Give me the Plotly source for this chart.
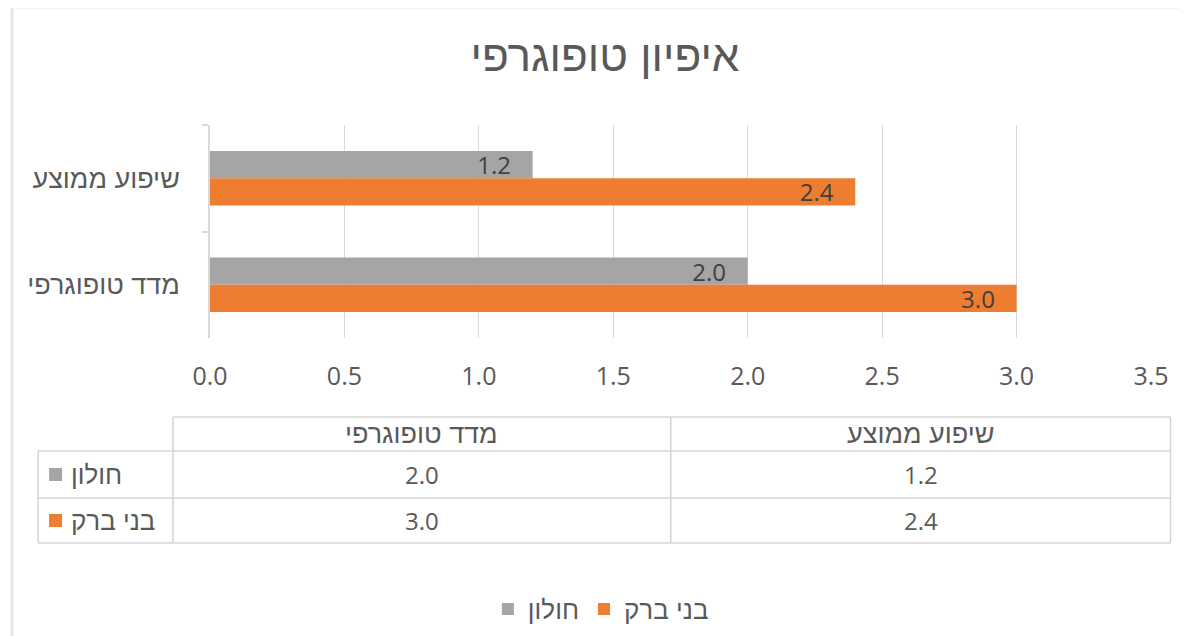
import plotly.graph_objects as go

# ---- data ----
title_text = "איפיון טופוגרפי"
categories = ["שיפוע ממוצע", "מדד טופוגרפי"]
series_names = ["חולון", "בני ברק"]
holon = [1.2, 2.0]
bnei_brak = [2.4, 3.0]
series_values = [holon, bnei_brak]
series_colors = ["#A5A5A5", "#ED7D31"]
x_ticks = [0.0, 0.5, 1.0, 1.5, 2.0, 2.5, 3.0, 3.5]

# page layout (the html body adds an 8px margin)
OFF = 8
W, H = 1187 - OFF, 636 - OFF
PL, PR, PT, PB = 210, 1151.5, 125, 338     # plot area in page pixels
L, T = PL - OFF, PT - OFF
R = W - (PR - OFF)
B = H - (PB - OFF)
PW, PH = PR - PL, PB - PT

def px(x):
    return (x - PL) / PW

def py(y):
    return 1 - (y - PT) / PH

HEB = "Liberation Sans, Arial, DejaVu Sans, sans-serif"
NUM = "Open Sans, Segoe UI, Liberation Sans, sans-serif"
TXT = "#595959"
GRID = "#D9D9D9"

fig = go.Figure()
for name, vals, col in zip(series_names, series_values, series_colors):
    fig.add_trace(go.Bar(
        y=categories, x=vals, name=name, orientation="h",
        marker=dict(color=col, line=dict(width=0)),
        texttemplate="%{x:.1f}" + "\u00a0" * 3, textposition="inside", insidetextanchor="end",
        textfont=dict(size=24, color="#404040", family=NUM),
        constraintext="none", hoverinfo="skip",
    ))

shapes = []
annotations = []

# outer chart border
shapes.append(dict(type="rect", xref="paper", yref="paper",
                   x0=px(12), x1=px(1200), y0=py(7), y1=py(660),
                   line=dict(color="#E6E6E6", width=3), layer="below"))

# ---- data table built from the arrays ----
col_x = [38, 173, 671, 1171]          # label col, then categories (RTL order)
row_y = [417, 451, 498, 543]          # header, series rows
line_c = "#D4D4D4"
lw = 1.5
shapes.append(dict(type="line", xref="paper", yref="paper",
                   x0=px(col_x[1]), x1=px(col_x[-1]), y0=py(row_y[0]), y1=py(row_y[0]),
                   line=dict(color=line_c, width=lw)))
for yy in row_y[1:]:
    shapes.append(dict(type="line", xref="paper", yref="paper",
                       x0=px(col_x[0]), x1=px(col_x[-1]), y0=py(yy), y1=py(yy),
                       line=dict(color=line_c, width=lw)))
shapes.append(dict(type="line", xref="paper", yref="paper",
                   x0=px(col_x[0]), x1=px(col_x[0]), y0=py(row_y[1]), y1=py(row_y[-1]),
                   line=dict(color=line_c, width=lw)))
for xx in col_x[1:]:
    shapes.append(dict(type="line", xref="paper", yref="paper",
                       x0=px(xx), x1=px(xx), y0=py(row_y[0]), y1=py(row_y[-1]),
                       line=dict(color=line_c, width=lw)))

table_cats = list(reversed(categories))
for j, cat in enumerate(table_cats):
    cx = (col_x[j + 1] + col_x[j + 2]) / 2
    annotations.append(dict(xref="paper", yref="paper", x=px(cx),
                            y=py((row_y[0] + row_y[1]) / 2), text=cat, showarrow=False,
                            xanchor="center", yanchor="middle",
                            font=dict(size=27, color=TXT, family=HEB)))
    ci = categories.index(cat)
    for i, vals in enumerate(series_values):
        annotations.append(dict(xref="paper", yref="paper", x=px(cx),
                                y=py((row_y[i + 1] + row_y[i + 2]) / 2),
                                text=f"{vals[ci]:.1f}", showarrow=False,
                                xanchor="center", yanchor="middle",
                                font=dict(size=24, color=TXT, family=NUM)))
for i, (name, col) in enumerate(zip(series_names, series_colors)):
    cy = (row_y[i + 1] + row_y[i + 2]) / 2
    shapes.append(dict(type="rect", xref="paper", yref="paper",
                       x0=px(49), x1=px(62), y0=py(cy - 6.5), y1=py(cy + 6.5),
                       fillcolor=col, line=dict(width=0)))
    annotations.append(dict(xref="paper", yref="paper", x=px(69), y=py(cy),
                            text=name, showarrow=False, xanchor="left", yanchor="middle",
                            font=dict(size=26, color=TXT, family=HEB)))

fig.update_layout(
    width=W, height=H,
    margin=dict(l=L, r=R, t=T, b=B, pad=0, autoexpand=False),
    paper_bgcolor="white", plot_bgcolor="white",
    title=dict(text=title_text, x=(605 - OFF) / W, xanchor="center",
               y=1 - (56 - OFF) / H, yanchor="middle",
               font=dict(size=44, color=TXT, family=HEB)),
    barmode="group", bargap=0.488, bargroupgap=0,
    xaxis=dict(range=[0, 3.5], tickvals=x_ticks, ticktext=[f"{v:.1f}" for v in x_ticks],
               showgrid=True, gridcolor=GRID, gridwidth=1.3, zeroline=False,
               showline=False, ticks="", ticklabelstandoff=21, automargin=False,
               tickfont=dict(size=25, color=TXT, family=NUM), fixedrange=True),
    yaxis=dict(autorange="reversed", showline=True, linecolor=GRID, linewidth=1.5,
               ticks="outside", tickson="boundaries", ticklen=6, tickcolor=GRID,
               tickwidth=1.5, showgrid=False, ticklabelstandoff=23, automargin=False,
               tickfont=dict(size=27, color=TXT, family=HEB), fixedrange=True),
    showlegend=True,
    legend=dict(orientation="h", x=px(488), xanchor="left", y=py(609), yanchor="middle",
                font=dict(size=26, color=TXT, family=HEB), traceorder="normal",
                bgcolor="rgba(0,0,0,0)", borderwidth=0, itemwidth=30),
    shapes=shapes, annotations=annotations,
)

fig.write_html("out.html")
